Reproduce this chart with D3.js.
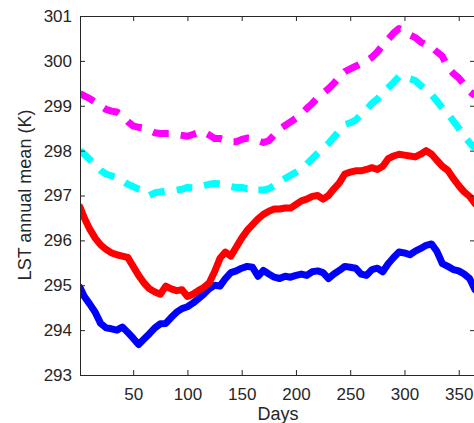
<!DOCTYPE html>
<html>
<head>
<meta charset="utf-8">
<script src="https://cdn.jsdelivr.net/npm/d3@7"></script>
<style>
  html, body { margin: 0; padding: 0; background: #ffffff; }
  svg { display: block; }
  text { font-family: "Liberation Sans", Arial, Helvetica, sans-serif; fill: #262626; }
</style>
</head>
<body>
<svg id="chart" width="474" height="423"></svg>
<script>
// ---- data ----
const days = [1,5,10,15,20,25,30,35,40,45,50,55,60,65,70,75,80,85,90,95,100,105,110,115,120,125,130,135,140,145,150,155,160,165,170,175,180,185,190,195,200,205,210,215,220,225,230,235,240,245,250,255,260,265,270,275,280,285,290,295,300,305,310,315,320,325,330,335,340,345,350,355,360,365];

const blueSeries = [294.95,294.75,294.58,294.40,294.15,294.05,294.03,294.00,294.07,293.95,293.82,293.68,293.80,293.92,294.05,294.14,294.15,294.28,294.40,294.48,294.52,294.60,294.70,294.80,294.92,295.00,294.98,295.15,295.28,295.32,295.38,295.42,295.40,295.20,295.33,295.25,295.18,295.15,295.20,295.18,295.22,295.25,295.22,295.30,295.32,295.28,295.15,295.25,295.33,295.42,295.40,295.38,295.25,295.22,295.35,295.38,295.30,295.48,295.62,295.74,295.72,295.68,295.76,295.82,295.89,295.92,295.75,295.48,295.42,295.35,295.32,295.25,295.15,294.90];

const redSeries = [296.74,296.50,296.25,296.05,295.90,295.80,295.72,295.68,295.65,295.62,295.42,295.22,295.05,294.92,294.85,294.80,294.98,294.92,294.88,294.90,294.75,294.80,294.88,294.95,295.05,295.30,295.60,295.74,295.65,295.85,296.05,296.22,296.35,296.48,296.58,296.65,296.70,296.70,296.72,296.72,296.80,296.88,296.92,296.98,297.00,296.92,297.00,297.15,297.28,297.48,297.52,297.55,297.55,297.58,297.62,297.58,297.65,297.82,297.88,297.92,297.90,297.88,297.86,297.92,298.00,297.92,297.78,297.65,297.56,297.38,297.22,297.08,296.98,296.82];

const cyanSeries = [298.00,297.92,297.80,297.68,297.56,297.48,297.44,297.40,297.33,297.25,297.20,297.14,297.10,297.00,297.06,297.08,297.10,297.10,297.12,297.14,297.18,297.17,297.20,297.22,297.25,297.27,297.26,297.22,297.20,297.18,297.18,297.15,297.18,297.12,297.12,297.15,297.22,297.30,297.38,297.45,297.52,297.60,297.70,297.82,297.94,298.05,298.16,298.30,298.45,298.58,298.62,298.68,298.80,298.92,299.05,299.15,299.28,299.40,299.52,299.65,299.66,299.60,299.56,299.45,299.35,299.25,299.10,298.95,298.82,298.66,298.50,298.32,298.18,298.05];

const magentaSeries = [299.27,299.22,299.16,299.08,299.00,298.92,298.88,298.86,298.78,298.65,298.55,298.52,298.50,298.45,298.40,298.38,298.38,298.38,298.36,298.34,298.32,298.36,298.40,298.42,298.35,298.27,298.27,298.24,298.20,298.20,298.25,298.28,298.27,298.22,298.18,298.22,298.35,298.48,298.56,298.64,298.72,298.82,298.94,299.05,299.18,299.28,299.38,299.50,299.64,299.76,299.82,299.88,299.94,300.00,300.08,300.20,300.35,300.48,300.62,300.72,300.66,300.58,300.52,300.42,300.36,300.30,300.20,300.10,299.85,299.72,299.62,299.48,299.32,299.22];

const xTicks = [50,100,150,200,250,300,350];
const yTicks = [293,294,295,296,297,298,299,300,301];
const xLabel = "Days";
const yLabel = "LST annual mean (K)";

(function () {
  // ---- layout ----
  const pL = 80, pR = 475, pT = 16, pB = 375;
  const svg = d3.select("#chart");

  const x = d3.scaleLinear().domain([1, 365]).range([pL, pR]);
  const y = d3.scaleLinear().domain([293, 301]).range([pB, pT]);

  const axisColor = "#262626";

  const series = [
    { values: blueSeries, color: "#0000ff", dash: null },
    { values: redSeries, color: "#ff0000", dash: null },
    { values: cyanSeries, color: "#00ffff", dash: "16,12" },
    { values: magentaSeries, color: "#ff00ff", dash: "16,12" }
  ];

  const line = d3.line()
    .x((d, i) => x(days[i]))
    .y(d => y(d));

  svg.append("defs").append("clipPath").attr("id", "clip")
    .append("rect").attr("x", pL).attr("y", pT).attr("width", pR - pL).attr("height", pB - pT);

  const g = svg.append("g").attr("clip-path", "url(#clip)");
  series.forEach(s => {
    g.append("path")
      .datum(s.values)
      .attr("d", line)
      .attr("fill", "none")
      .attr("stroke", s.color)
      .attr("stroke-width", 7)
      .attr("stroke-linejoin", "round")
      .attr("stroke-linecap", s.dash ? "butt" : "round")
      .attr("stroke-dasharray", s.dash);
  });

  const tickSize = 5;
  const bottomAxis = d3.axisBottom(x).tickValues(xTicks).tickSizeInner(-tickSize).tickSizeOuter(0).tickPadding(13);
  const topAxis = d3.axisTop(x).tickValues(xTicks).tickSizeInner(-tickSize).tickSizeOuter(0).tickFormat("");
  const leftAxis = d3.axisLeft(y).tickValues(yTicks).tickSizeInner(-tickSize).tickSizeOuter(0).tickPadding(8);
  const rightAxis = d3.axisRight(y).tickValues(yTicks).tickSizeInner(-tickSize).tickSizeOuter(0).tickFormat("");

  function styleAxis(sel) {
    sel.select(".domain").attr("stroke", axisColor).attr("stroke-width", 1);
    sel.selectAll(".tick line").attr("stroke", axisColor).attr("stroke-width", 1);
    sel.selectAll(".tick text").attr("fill", axisColor).style("font-size", "17px")
      .style("font-family", '"Liberation Sans", Arial, Helvetica, sans-serif');
  }

  svg.append("g").attr("transform", `translate(0,${pB})`).call(bottomAxis).call(styleAxis);
  svg.append("g").attr("transform", `translate(0,${pT})`).call(topAxis).call(styleAxis);
  svg.append("g").attr("transform", `translate(${pL},0)`).call(leftAxis).call(styleAxis);
  svg.append("g").attr("transform", `translate(${pR},0)`).call(rightAxis).call(styleAxis);

  svg.append("text")
    .attr("x", 278).attr("y", 420)
    .attr("text-anchor", "middle")
    .style("font-size", "18px")
    .text(xLabel);

  svg.append("text")
    .attr("transform", `translate(31,195) rotate(-90)`)
    .attr("text-anchor", "middle")
    .style("font-size", "18px")
    .text(yLabel);
})();
</script>
</body>
</html>
